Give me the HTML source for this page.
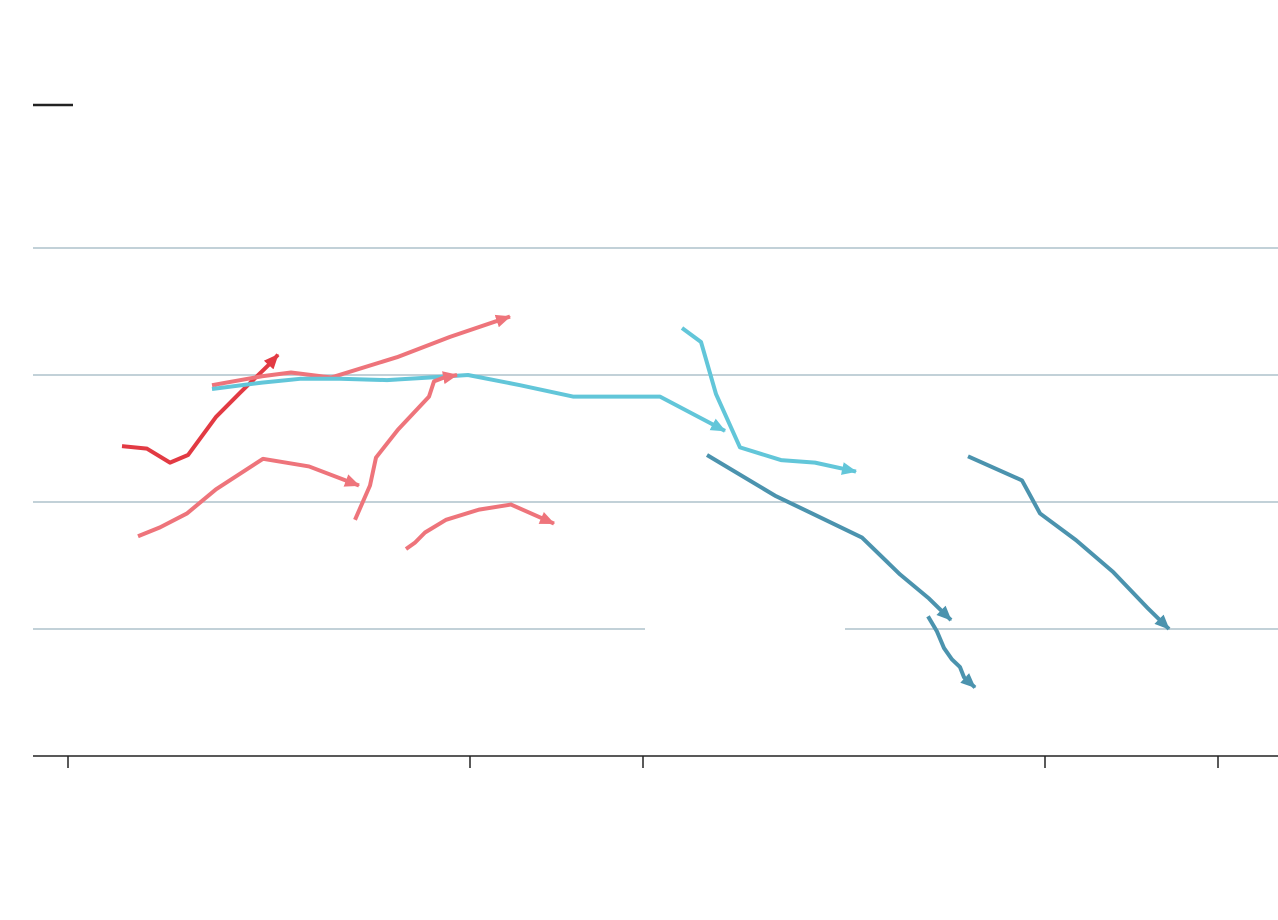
<!DOCTYPE html>
<html><head><meta charset="utf-8"><style>
html,body{margin:0;padding:0;background:#fff;}
svg{display:block;font-family:"Liberation Sans",sans-serif;}
</style></head><body>
<svg id="chart" width="1278" height="920" viewBox="0 0 1278 920" xmlns="http://www.w3.org/2000/svg">
<defs id="defs"></defs>
<line x1="33" y1="105" x2="73" y2="105" stroke="#222" stroke-width="2.5"/>
<g id="grid"></g><g id="axis"></g><g id="series"></g>
</svg>
<script>
const gridValues=[10,20,30,40];
const xTicks=[6.8,47.0,64.3,104.5,121.8];
const seriesColors=["#e23a43","#ee747b","#62c6d9","#ee747b","#ee747b","#ee747b","#62c6d9","#4b93ae","#4b93ae","#4b93ae"];
const s1x=[12.2,14.7,17.0,18.8,21.6,24.0,27.0,27.8];
const s1y=[24.4,24.2,23.1,23.7,26.7,28.6,30.9,31.6];
const s2x=[21.2,26.2,29.1,33.1,39.7,45.0,51.0];
const s2y=[29.2,29.9,30.2,29.8,31.4,33.0,34.6];
const s3x=[21.2,26.2,30.0,34.0,38.7,43.0,46.8,52.0,57.3,61.2,66.0,72.5];
const s3y=[28.9,29.4,29.7,29.7,29.6,29.8,30.0,29.2,28.3,28.3,28.3,25.6];
const s4x=[13.8,16.0,18.7,21.6,26.3,30.9,35.9];
const s4y=[17.3,18.0,19.1,21.0,23.4,22.8,21.3];
const s5x=[35.5,37.0,37.6,39.8,42.9,43.4,44.4,45.7];
const s5y=[18.6,21.3,23.5,25.7,28.3,29.5,29.8,30.0];
const s6x=[40.6,41.5,42.5,44.6,47.9,51.1,55.4];
const s6y=[16.3,16.8,17.6,18.6,19.4,19.8,18.3];
const s7x=[68.2,70.1,71.6,74.0,78.1,81.5,85.6];
const s7y=[33.7,32.6,28.5,24.3,23.3,23.1,22.4];
const s8x=[70.7,77.5,81.2,86.2,90.0,92.9,95.1];
const s8y=[23.7,20.5,19.1,17.2,14.3,12.4,10.7];
const s9x=[92.8,93.7,94.4,95.2,96.0,96.4,97.5];
const s9y=[11.0,9.8,8.5,7.6,7.0,6.2,5.4];
const s10x=[96.8,102.2,104.0,107.6,111.3,114.7,116.9];
const s10y=[23.6,21.7,19.1,17.0,14.5,11.7,10.0];
const allX=[s1x,s2x,s3x,s4x,s5x,s6x,s7x,s8x,s9x,s10x];
const allY=[s1y,s2y,s3y,s4y,s5y,s6y,s7y,s8y,s9y,s10y];

const NS="http://www.w3.org/2000/svg";
const xs=v=>v*10;
const ys=v=>756-v*12.7;
const grid=document.getElementById('grid');
gridValues.forEach(g=>{
  const segs=g===10?[[33,645],[845,1278]]:[[33,1278]];
  segs.forEach(s=>{
    const l=document.createElementNS(NS,'line');
    
    
    l.setAttribute('x1',s[0]);l.setAttribute('x2',s[1]);
    l.setAttribute('y1',ys(g));l.setAttribute('y2',ys(g));
    l.setAttribute('stroke','#adc2cb');l.setAttribute('stroke-width','1.5');
    grid.appendChild(l);
  });
});
const axis=document.getElementById('axis');
const base=document.createElementNS(NS,'line');


base.setAttribute('x1',33);base.setAttribute('x2',1278);
base.setAttribute('y1',ys(0));base.setAttribute('y2',ys(0));
base.setAttribute('stroke','#222');base.setAttribute('stroke-width','1.5');
axis.appendChild(base);
xTicks.forEach(t=>{
  const l=document.createElementNS(NS,'line');
  
  
  l.setAttribute('x1',xs(t));l.setAttribute('x2',xs(t));
  l.setAttribute('y1',ys(0));l.setAttribute('y2',ys(0)+12);
  l.setAttribute('stroke','#222');l.setAttribute('stroke-width','1.5');
  axis.appendChild(l);
});
const defs=document.getElementById('defs');
const sg=document.getElementById('series');
allX.forEach((xa,i)=>{
  const c=seriesColors[i];
  const m=document.createElementNS(NS,'marker');
  m.setAttribute('id','arr'+i);
  m.setAttribute('markerUnits','userSpaceOnUse');
  m.setAttribute('markerWidth','18');m.setAttribute('markerHeight','16');
  m.setAttribute('viewBox','0 -8 18 16');
  m.setAttribute('refX','14');m.setAttribute('refY','0');
  m.setAttribute('orient','auto');
  const p=document.createElementNS(NS,'path');
  p.setAttribute('d','M0,-6.5 L15,0 L0,6.5 z');
  p.setAttribute('fill',c);
  m.appendChild(p);defs.appendChild(m);
  const pl=document.createElementNS(NS,'polyline');
  
  
  pl.setAttribute('points',xa.map((x,j)=>xs(x)+','+ys(allY[i][j])).join(' '));
  pl.setAttribute('fill','none');pl.setAttribute('stroke',c);
  pl.setAttribute('stroke-width','4');pl.setAttribute('stroke-linejoin','round');
  pl.setAttribute('marker-end','url(#arr'+i+')');
  sg.appendChild(pl);
});
</script>
</body></html>
